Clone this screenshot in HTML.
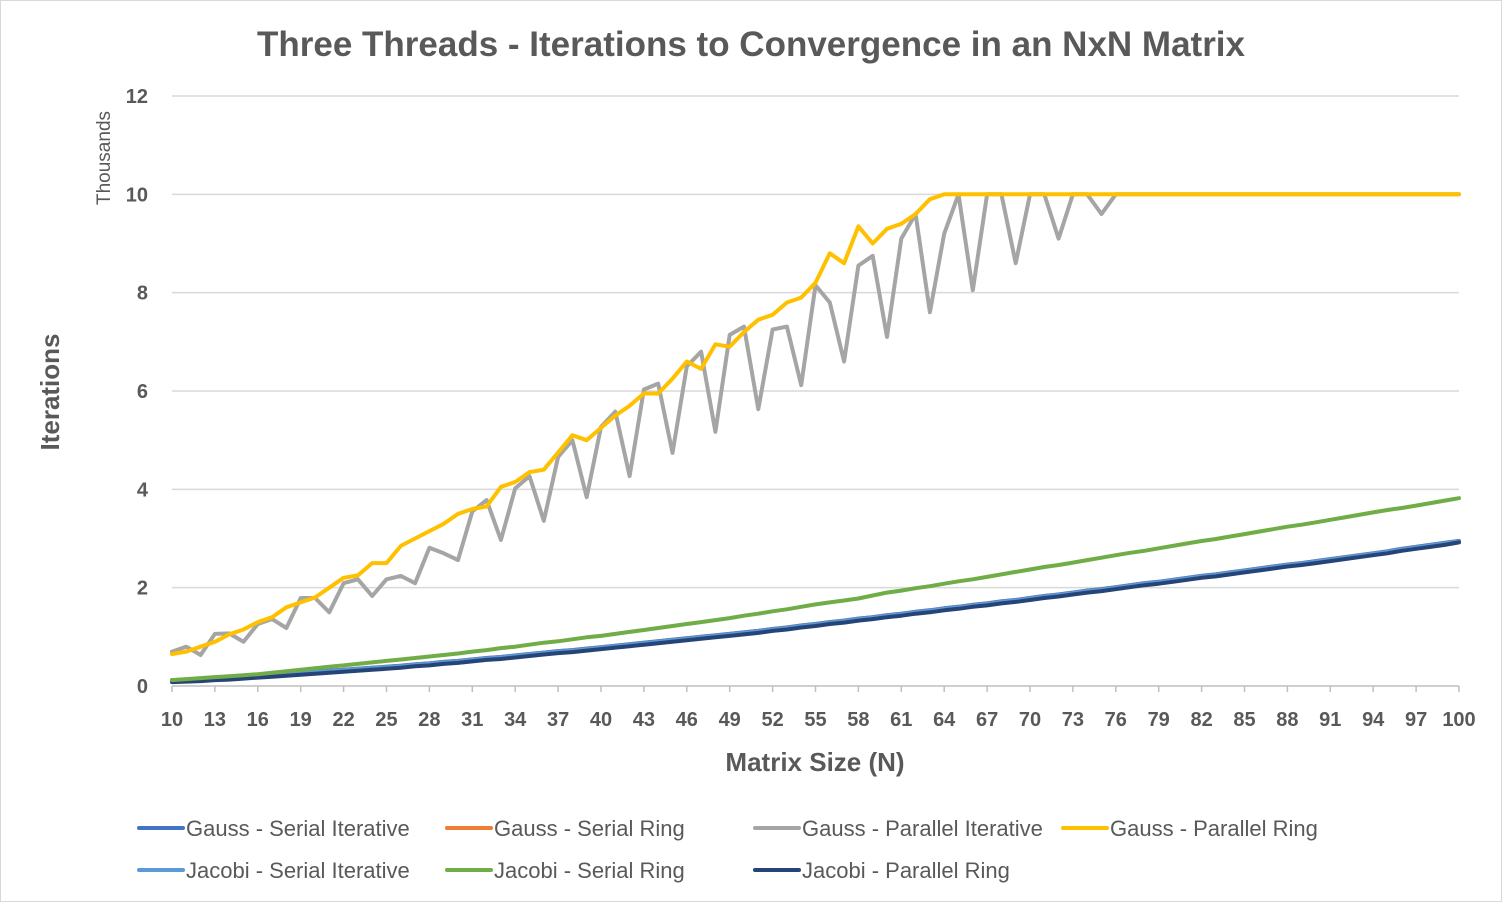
<!DOCTYPE html>
<html><head><meta charset="utf-8"><style>
html,body{margin:0;padding:0;background:#fff;}
svg{display:block;font-family:"Liberation Sans",sans-serif;}
</style></head><body>
<svg id="chart" width="1502" height="902" xmlns="http://www.w3.org/2000/svg">
<rect x="0.5" y="0.5" width="1501" height="901" fill="#fff" stroke="#d9d9d9"/>
<text x="751" y="56" text-anchor="middle" font-size="35" font-weight="bold" fill="#595959">Three Threads - Iterations to Convergence in an NxN Matrix</text>
<text transform="translate(59,392) rotate(-90)" text-anchor="middle" font-size="26" font-weight="bold" fill="#595959">Iterations</text>
<text transform="translate(110,158) rotate(-90)" text-anchor="middle" font-size="19" fill="#595959">Thousands</text>
<text x="815" y="771" text-anchor="middle" font-size="26" font-weight="bold" fill="#595959">Matrix Size (N)</text>
<g id="grid"></g><g id="ticks"></g><g id="series"></g><g id="legend"></g>
</svg>
<script>
const categories = [];
for (let n = 10; n <= 100; n++) categories.push(n);
const yTicks = [0, 2, 4, 6, 8, 10, 12];
const xTickLabels = [10,13,16,19,22,25,28,31,34,37,40,43,46,49,52,55,58,61,64,67,70,73,76,79,82,85,88,91,94,97,100];
const jacobiParallelRing = [0.08,0.09,0.10,0.12,0.13,0.15,0.17,0.19,0.21,0.23,0.25,0.27,0.29,0.31,0.33,0.35,0.37,0.40,0.42,0.45,0.47,0.50,0.53,0.55,0.58,0.61,0.64,0.67,0.69,0.72,0.75,0.78,0.81,0.84,0.87,0.90,0.93,0.96,0.99,1.02,1.05,1.08,1.12,1.15,1.19,1.22,1.26,1.29,1.33,1.36,1.40,1.43,1.47,1.50,1.54,1.57,1.61,1.64,1.68,1.71,1.75,1.79,1.82,1.86,1.90,1.93,1.97,2.01,2.05,2.08,2.12,2.16,2.20,2.23,2.27,2.31,2.35,2.39,2.43,2.46,2.50,2.54,2.58,2.62,2.66,2.70,2.75,2.79,2.83,2.87,2.92];
const jacobiSerialIterative = [0.11,0.12,0.13,0.15,0.16,0.18,0.20,0.22,0.24,0.26,0.28,0.30,0.32,0.34,0.36,0.38,0.40,0.43,0.45,0.48,0.50,0.53,0.56,0.58,0.61,0.64,0.67,0.70,0.72,0.75,0.78,0.81,0.84,0.87,0.90,0.93,0.96,0.99,1.02,1.05,1.08,1.11,1.15,1.18,1.22,1.25,1.29,1.32,1.36,1.39,1.43,1.46,1.50,1.53,1.57,1.60,1.64,1.67,1.71,1.74,1.78,1.82,1.85,1.89,1.93,1.96,2.00,2.04,2.08,2.11,2.15,2.19,2.23,2.26,2.30,2.34,2.38,2.42,2.46,2.49,2.53,2.57,2.61,2.65,2.69,2.73,2.78,2.82,2.86,2.90,2.94];
const gaussSerialIterative = [0.12,0.13,0.14,0.16,0.17,0.19,0.21,0.23,0.25,0.27,0.29,0.31,0.33,0.35,0.37,0.39,0.41,0.44,0.46,0.49,0.51,0.54,0.57,0.59,0.62,0.65,0.68,0.71,0.73,0.76,0.79,0.82,0.85,0.88,0.91,0.94,0.97,1.00,1.03,1.06,1.09,1.12,1.16,1.19,1.23,1.26,1.30,1.33,1.37,1.40,1.44,1.47,1.51,1.54,1.58,1.61,1.65,1.68,1.72,1.75,1.79,1.83,1.86,1.90,1.94,1.97,2.01,2.05,2.09,2.12,2.16,2.20,2.24,2.27,2.31,2.35,2.39,2.43,2.47,2.50,2.54,2.58,2.62,2.66,2.70,2.74,2.79,2.83,2.87,2.91,2.95];
const gaussSerialRing = [0.12,0.13,0.14,0.16,0.17,0.19,0.21,0.23,0.25,0.27,0.29,0.31,0.33,0.35,0.37,0.39,0.41,0.44,0.46,0.49,0.51,0.54,0.57,0.59,0.62,0.65,0.68,0.71,0.73,0.76,0.79,0.82,0.85,0.88,0.91,0.94,0.97,1.00,1.03,1.06,1.09,1.12,1.16,1.19,1.23,1.26,1.30,1.33,1.37,1.40,1.44,1.47,1.51,1.54,1.58,1.61,1.65,1.68,1.72,1.75,1.79,1.83,1.86,1.90,1.94,1.97,2.01,2.05,2.09,2.12,2.16,2.20,2.24,2.27,2.31,2.35,2.39,2.43,2.47,2.50,2.54,2.58,2.62,2.66,2.70,2.74,2.79,2.83,2.87,2.91,2.95];
const jacobiSerialRing = [0.12,0.14,0.16,0.18,0.20,0.22,0.24,0.27,0.30,0.33,0.36,0.39,0.42,0.45,0.48,0.51,0.54,0.57,0.60,0.63,0.66,0.70,0.73,0.77,0.80,0.84,0.88,0.91,0.95,0.99,1.02,1.06,1.10,1.14,1.18,1.22,1.26,1.30,1.34,1.38,1.43,1.47,1.52,1.56,1.61,1.66,1.70,1.74,1.78,1.84,1.90,1.94,1.99,2.03,2.08,2.13,2.17,2.22,2.27,2.32,2.37,2.42,2.46,2.51,2.56,2.61,2.66,2.71,2.75,2.80,2.85,2.90,2.95,2.99,3.04,3.09,3.14,3.19,3.24,3.28,3.33,3.38,3.43,3.48,3.53,3.58,3.62,3.67,3.72,3.77,3.82];
const gaussParallelIterative = [0.70,0.80,0.63,1.06,1.07,0.90,1.26,1.36,1.18,1.79,1.79,1.50,2.09,2.17,1.83,2.17,2.24,2.09,2.81,2.70,2.56,3.55,3.78,2.97,4.02,4.27,3.36,4.66,5.00,3.84,5.27,5.58,4.27,6.03,6.15,4.74,6.50,6.80,5.17,7.14,7.31,5.63,7.25,7.31,6.12,8.15,7.80,6.60,8.55,8.75,7.10,9.10,9.60,7.60,9.20,10,8.05,10,10,8.60,10,10,9.10,10,10,9.60,10,10,10,10,10,10,10,10,10,10,10,10,10,10,10,10,10,10,10,10,10,10,10,10,10];
const gaussParallelRing = [0.65,0.70,0.80,0.90,1.05,1.15,1.30,1.40,1.60,1.70,1.80,2.00,2.20,2.25,2.50,2.50,2.85,3.00,3.15,3.30,3.50,3.60,3.65,4.05,4.15,4.35,4.40,4.75,5.10,5.00,5.25,5.50,5.70,5.95,5.95,6.25,6.60,6.45,6.95,6.90,7.20,7.45,7.55,7.80,7.90,8.20,8.80,8.60,9.35,9.00,9.30,9.40,9.60,9.90,10,10,10,10,10,10,10,10,10,10,10,10,10,10,10,10,10,10,10,10,10,10,10,10,10,10,10,10,10,10,10,10,10,10,10,10,10];

const NS = "http://www.w3.org/2000/svg";
const X0 = 172, X1 = 1459, Y0 = 686, Y1 = 96;
const xScale = n => X0 + (n - categories[0]) / (categories[categories.length-1] - categories[0]) * (X1 - X0);
const yScale = v => Y0 - v / 12 * (Y0 - Y1);
function mk(tag, attrs, parent){ const e=document.createElementNS(NS,tag); for(const k in attrs) e.setAttribute(k,attrs[k]); parent.appendChild(e); return e; }

const grid = document.getElementById('grid');
yTicks.forEach(t => {
  if (t > 0) {
    const l = mk('line',{x1:X0,x2:X1,y1:yScale(t),y2:yScale(t),stroke:'#d9d9d9','stroke-width':1.5},grid);
    
    
  }
  const tx = mk('text',{x:148,y:yScale(t)+7,'text-anchor':'end','font-size':20,'font-weight':'bold',fill:'#595959'},grid);
  tx.textContent = t;
  
  
});
const ticks = document.getElementById('ticks');
const ax = mk('line',{x1:X0,x2:X1,y1:Y0,y2:Y0,stroke:'#bfbfbf','stroke-width':1.5},ticks);


xTickLabels.forEach(n => {
  const tk = mk('line',{x1:xScale(n),x2:xScale(n),y1:Y0,y2:Y0+6,stroke:'#bfbfbf','stroke-width':1.5},ticks);
  
  
  const tx = mk('text',{x:xScale(n),y:726,'text-anchor':'middle','font-size':20,'font-weight':'bold',fill:'#595959'},ticks);
  tx.textContent = n;
  
  
});

const seriesList = [
  {name:'Gauss - Serial Iterative', data:gaussSerialIterative, color:'#4472C4', key:'gauss-serial-iterative'},
  {name:'Gauss - Serial Ring', data:gaussSerialRing, color:'#ED7D31', key:'gauss-serial-ring'},
  {name:'Gauss - Parallel Iterative', data:gaussParallelIterative, color:'#A5A5A5', key:'gauss-parallel-iterative'},
  {name:'Gauss - Parallel Ring', data:gaussParallelRing, color:'#FFC000', key:'gauss-parallel-ring'},
  {name:'Jacobi - Serial Iterative', data:jacobiSerialIterative, color:'#5B9BD5', key:'jacobi-serial-iterative'},
  {name:'Jacobi - Serial Ring', data:jacobiSerialRing, color:'#70AD47', key:'jacobi-serial-ring'},
  {name:'Jacobi - Parallel Ring', data:jacobiParallelRing, color:'#264478', key:'jacobi-parallel-ring'}
];
const drawOrder = [1,0,4,6,5,2,3];
const sg = document.getElementById('series');
drawOrder.forEach(i => {
  const s = seriesList[i];
  const pts = s.data.map((v,j) => xScale(categories[j]).toFixed(1)+','+yScale(v).toFixed(1)).join(' ');
  const p = mk('polyline',{points:pts,fill:'none',stroke:s.color,'stroke-width':4,'stroke-linejoin':'round','stroke-linecap':'round'},sg);
  
  
});
const lg = document.getElementById('legend');
seriesList.forEach((s,i) => {
  const row = i < 4 ? 0 : 1;
  const col = i < 4 ? i : (i === 4 ? 0 : i === 5 ? 1 : 3 - 1);
  const cx = 139 + col * 308;
  const cy = row === 0 ? 828 : 870;
  const g = mk('g',{},lg);
  
  
  mk('line',{x1:cx,x2:cx+44,y1:cy,y2:cy,stroke:s.color,'stroke-width':4,'stroke-linecap':'round'},g);
  const t = mk('text',{x:cx+47,y:cy+8,'font-size':22,fill:'#595959'},g);
  t.textContent = s.name;
});
</script>
</body></html>
